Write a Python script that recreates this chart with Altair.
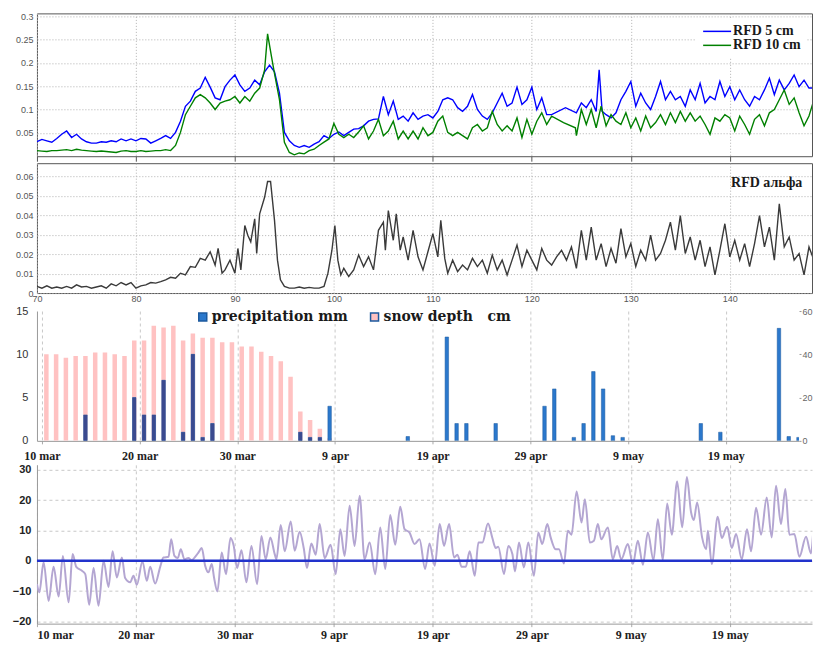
import altair as alt
import pandas as pd

# ---------------- data ----------------
series_top = ["RFD 5 cm", "RFD 10 cm"]
series_alpha = ["RFD альфа"]
series_bars = ["precipitation mm", "snow depth\u00a0\u00a0\u00a0cm"]

tick_days = [70, 80, 90, 100, 110, 120, 130, 140]
date_labels = ["10 mar", "20 mar", "30 mar", "9 apr", "19 apr", "29 apr", "9 may", "19 may"]

rfd5_day = [70, 70.5, 71, 71.5, 72, 72.5, 73, 73.5, 74, 74.5,
            75, 75.5, 76, 76.5, 77, 77.5, 78, 78.5, 79, 79.5,
            80, 80.5, 81, 81.5, 82, 82.5, 83, 83.5, 84, 84.5,
            85, 85.5, 86, 86.5, 87, 87.5, 88, 88.5, 89, 89.5,
            90, 90.5, 91, 91.5, 92, 92.5, 93, 93.5, 94, 94.5,
            95, 95.5, 96, 96.5, 97, 97.5, 98, 98.5, 99, 99.5,
            100, 100.5, 101, 101.5, 102, 102.5, 103, 103.5, 104, 104.5,
            105, 105.5, 106, 106.5, 107, 107.5, 108, 108.5, 109, 109.5,
            110, 110.5, 111, 111.5, 112, 112.5, 113, 113.5, 114, 114.5,
            115, 115.5, 116, 116.5, 117, 117.5, 118, 118.5, 119, 119.5,
            120, 120.5, 121, 121.5, 122, 123.4, 124.5, 125, 125.5, 126,
            126.5, 126.8, 127.1, 127.5, 128, 128.5, 129, 129.5, 130, 130.5,
            131, 131.5, 132, 132.5, 133, 133.5, 134, 134.5, 135, 135.5,
            136, 136.5, 137, 137.5, 138, 138.5, 139, 139.5, 140, 140.5,
            141, 141.5, 142, 142.5, 143, 143.5, 144, 144.5, 145, 145.5,
            146, 146.5, 147, 147.5, 148, 148.5, 149, 149.4]
rfd5_val = [0.031, 0.036, 0.033, 0.030, 0.038, 0.047, 0.054, 0.040, 0.047, 0.037,
            0.031, 0.028, 0.028, 0.031, 0.030, 0.033, 0.031, 0.037, 0.033, 0.037,
            0.033, 0.038, 0.037, 0.028, 0.033, 0.038, 0.044, 0.038, 0.051, 0.075,
            0.107, 0.118, 0.139, 0.146, 0.169, 0.148, 0.125, 0.121, 0.149, 0.163,
            0.174, 0.153, 0.139, 0.146, 0.163, 0.153, 0.181, 0.195, 0.181, 0.135,
            0.051, 0.033, 0.023, 0.019, 0.023, 0.019, 0.026, 0.031, 0.044, 0.038,
            0.047, 0.052, 0.044, 0.051, 0.058, 0.059, 0.065, 0.075, 0.079, 0.080,
            0.128, 0.089, 0.118, 0.079, 0.086, 0.075, 0.093, 0.079, 0.086, 0.089,
            0.082, 0.096, 0.121, 0.125, 0.121, 0.104, 0.096, 0.107, 0.132, 0.100,
            0.086, 0.079, 0.093, 0.114, 0.135, 0.107, 0.114, 0.148, 0.111, 0.121,
            0.148, 0.100, 0.125, 0.089, 0.089, 0.104, 0.093, 0.114, 0.104, 0.121,
            0.096, 0.185, 0.096, 0.089, 0.082, 0.093, 0.121, 0.139, 0.160, 0.107,
            0.135, 0.114, 0.100, 0.128, 0.160, 0.121, 0.139, 0.121, 0.128, 0.107,
            0.142, 0.121, 0.156, 0.114, 0.128, 0.121, 0.160, 0.128, 0.149, 0.121,
            0.142, 0.121, 0.107, 0.128, 0.121, 0.142, 0.167, 0.132, 0.163, 0.142,
            0.156, 0.174, 0.149, 0.163, 0.146, 0.146, 0.170, 0.163]

rfd10_day = [70, 70.5, 71, 71.5, 72, 72.5, 73, 73.5, 74, 74.5,
             75, 75.5, 76, 76.5, 77, 77.5, 78, 78.5, 79, 79.5,
             80, 80.5, 81, 81.5, 82, 82.5, 83, 83.5, 84, 84.5,
             85, 85.5, 86, 86.5, 87, 87.5, 88, 88.5, 89, 89.5,
             90, 90.5, 91, 91.5, 92, 92.5, 93, 93.3, 93.7, 94,
             94.5, 95, 95.5, 96, 96.5, 97, 97.5, 98, 98.5, 99,
             99.5, 100, 100.5, 101, 101.5, 102, 102.5, 103, 103.5, 104,
             104.5, 105, 105.5, 106, 106.5, 107, 107.5, 108, 108.5, 109,
             109.5, 110, 110.5, 111, 111.5, 112, 112.5, 113, 113.5, 114,
             114.5, 115, 115.5, 116, 116.5, 117, 117.5, 118, 118.5, 119,
             119.5, 120, 120.5, 121, 121.5, 122, 123.2, 124.4, 124.5, 125,
             125.5, 126, 126.5, 127, 127.5, 128, 128.5, 129, 129.5, 130,
             130.5, 131, 131.5, 132, 132.5, 133, 133.5, 134, 134.5, 135,
             135.5, 136, 136.5, 137, 137.5, 138, 138.5, 139, 139.5, 140,
             140.5, 141, 141.5, 142, 142.5, 143, 143.5, 144, 144.5, 145,
             145.5, 146, 146.5, 147, 147.5, 148, 148.5, 149, 149.4]
rfd10_val = [0.012, 0.011, 0.010, 0.012, 0.012, 0.013, 0.014, 0.012, 0.015, 0.013,
             0.012, 0.011, 0.010, 0.011, 0.010, 0.009, 0.008, 0.011, 0.012, 0.010,
             0.010, 0.012, 0.010, 0.011, 0.012, 0.012, 0.014, 0.012, 0.023, 0.051,
             0.089, 0.107, 0.125, 0.132, 0.125, 0.114, 0.100, 0.114, 0.118, 0.121,
             0.128, 0.114, 0.128, 0.118, 0.135, 0.146, 0.185, 0.262, 0.213, 0.177,
             0.121, 0.030, 0.008, 0.003, 0.007, 0.005, 0.012, 0.015, 0.023, 0.030,
             0.037, 0.070, 0.047, 0.040, 0.047, 0.040, 0.052, 0.065, 0.037, 0.054,
             0.079, 0.044, 0.054, 0.075, 0.037, 0.054, 0.037, 0.054, 0.037, 0.061,
             0.044, 0.051, 0.075, 0.086, 0.051, 0.044, 0.051, 0.044, 0.037, 0.061,
             0.068, 0.054, 0.061, 0.096, 0.068, 0.054, 0.065, 0.054, 0.082, 0.040,
             0.079, 0.047, 0.075, 0.093, 0.068, 0.086, 0.072, 0.061, 0.044, 0.100,
             0.068, 0.100, 0.061, 0.107, 0.065, 0.089, 0.075, 0.068, 0.093, 0.061,
             0.082, 0.054, 0.086, 0.061, 0.072, 0.089, 0.068, 0.093, 0.072, 0.096,
             0.075, 0.093, 0.075, 0.086, 0.068, 0.047, 0.082, 0.075, 0.089, 0.082,
             0.054, 0.086, 0.068, 0.047, 0.079, 0.089, 0.065, 0.093, 0.100, 0.121,
             0.142, 0.111, 0.125, 0.093, 0.065, 0.086, 0.121, 0.100, 0.089]

alpha_day = [70, 70.5, 71, 71.5, 72, 72.5, 73, 73.5, 74, 74.5,
             75, 75.5, 76, 76.5, 77, 77.5, 78, 78.5, 79, 79.5,
             80, 80.5, 81, 81.5, 82, 82.5, 83, 83.5, 84, 84.5,
             85, 85.5, 86, 86.5, 87, 87.5, 88, 88.3, 88.7, 89,
             89.5, 90, 90.3, 90.6, 91, 91.3, 91.6, 92, 92.2, 92.5,
             93, 93.3, 93.6, 94, 94.3, 94.6, 95, 95.5, 96, 96.5,
             97, 97.5, 98, 98.5, 99, 99.4, 99.8, 100.1, 100.4, 100.7,
             101, 101.5, 102, 102.5, 103, 103.5, 104, 104.5, 105, 105.2,
             105.5, 106, 106.3, 106.7, 107, 107.5, 108, 108.5, 109, 109.5,
             110, 110.5, 110.8, 111.2, 111.5, 112, 112.5, 113, 113.5, 114,
             114.5, 115, 115.5, 116, 116.5, 117, 117.5, 118, 118.5, 119,
             119.5, 120, 120.5, 121, 121.5, 122, 122.5, 123, 123.5, 124,
             124.5, 125, 125.5, 126, 126.5, 127, 127.5, 128, 128.5, 129,
             129.5, 130, 130.5, 131, 131.5, 132, 132.5, 133, 133.5, 134,
             134.5, 135, 135.5, 136, 136.5, 137, 137.5, 138, 138.5, 139,
             139.5, 140, 140.5, 141, 141.5, 142, 142.5, 143, 143.5, 144,
             144.5, 145, 145.5, 146, 146.5, 147, 147.5, 148, 148.5, 149,
             149.4]
alpha_val = [0.0034, 0.0025, 0.0037, 0.0025, 0.0031, 0.0025, 0.0034, 0.0025, 0.0042, 0.0031,
             0.0034, 0.0025, 0.0031, 0.0037, 0.0025, 0.0047, 0.0037, 0.0054, 0.0042, 0.0054,
             0.0025, 0.0037, 0.0042, 0.0054, 0.0051, 0.0059, 0.0068, 0.0081, 0.0076, 0.0102,
             0.0093, 0.0136, 0.0132, 0.0178, 0.0169, 0.0212, 0.0144, 0.0229, 0.0102, 0.0119,
             0.0169, 0.0102, 0.0229, 0.0119, 0.0347, 0.0297, 0.0263, 0.0381, 0.0203, 0.0407,
             0.0492, 0.0573, 0.0573, 0.0373, 0.0169, 0.0068, 0.0034, 0.0025, 0.0025, 0.0031,
             0.0025, 0.0029, 0.0025, 0.0025, 0.0034, 0.0102, 0.0220, 0.0347, 0.0169, 0.0093,
             0.0127, 0.0085, 0.0119, 0.0195, 0.0136, 0.0186, 0.0119, 0.0322, 0.0364, 0.0220,
             0.0424, 0.0271, 0.0407, 0.0220, 0.0288, 0.0169, 0.0322, 0.0186, 0.0119, 0.0212,
             0.0305, 0.0186, 0.0373, 0.0178, 0.0102, 0.0169, 0.0110, 0.0144, 0.0119, 0.0178,
             0.0136, 0.0169, 0.0102, 0.0195, 0.0119, 0.0169, 0.0093, 0.0169, 0.0246, 0.0136,
             0.0220, 0.0169, 0.0119, 0.0229, 0.0169, 0.0144, 0.0186, 0.0220, 0.0169, 0.0237,
             0.0127, 0.0322, 0.0169, 0.0339, 0.0169, 0.0254, 0.0136, 0.0229, 0.0153, 0.0331,
             0.0186, 0.0254, 0.0136, 0.0220, 0.0169, 0.0297, 0.0169, 0.0203, 0.0271, 0.0364,
             0.0220, 0.0398, 0.0203, 0.0288, 0.0169, 0.0271, 0.0136, 0.0237, 0.0093, 0.0220,
             0.0356, 0.0186, 0.0271, 0.0169, 0.0254, 0.0136, 0.0254, 0.0398, 0.0237, 0.0339,
             0.0169, 0.0458, 0.0237, 0.0288, 0.0169, 0.0203, 0.0093, 0.0237, 0.0169, 0.0373,
             0.0237]

snow_day = [70, 71, 72, 73, 74, 75, 76, 77, 78, 79,
            80, 81, 82, 83, 84, 85, 86, 87, 88, 89,
            90, 91, 92, 93, 94, 95, 96, 97, 98, 99]
snow_cm = [40, 40, 38.4, 39.2, 39.2, 40.8, 40.8, 40, 39.2, 46.4,
           46.4, 53.2, 52.4, 53.2, 46.4, 49.6, 47.6, 47.6, 45.6, 45.6,
           43.6, 43.6, 41.2, 39.2, 36.8, 29.6, 13.6, 9.6, 5.6, 1.2]

precip_day = [74, 79, 80, 81, 82, 84, 85, 86, 87, 96, 97, 98, 99,
              107, 111, 112, 113, 116, 121, 122, 124, 125, 126, 127, 128, 129,
              137, 139, 145, 146, 147]
precip_mm = [3, 5, 3, 3, 7, 1, 10, 0.4, 2, 1, 0.4, 0.4, 4,
             0.5, 12, 2, 2, 2, 4, 6, 0.4, 2, 8, 6, 0.6, 0.4,
             2, 1, 13, 0.5, 0.4]

temp_day = [70.0, 70.24, 70.67, 71.18, 71.68, 72.19, 72.62, 73.2, 73.6, 73.97,
            74.54, 74.88, 75.28, 75.72, 76.22, 76.73, 77.23, 77.64, 78.07, 78.58,
            78.91, 79.42, 79.75, 80.09, 80.66, 81.1, 81.44, 81.94, 82.45, 82.78,
            83.29, 83.56, 83.89, 84.23, 84.53, 84.9, 85.3, 85.64, 85.98, 86.31,
            86.65, 86.99, 87.32, 87.66, 87.89, 88.23, 88.67, 89.1, 89.55, 89.88,
            90.22, 90.66, 91.16, 91.67, 92.24, 92.68, 93.11, 93.58, 94.02, 94.19,
            94.63, 95.03, 95.64, 96.04, 96.54, 96.95, 97.28, 97.72, 98.16, 98.56,
            99.07, 99.67, 100.18, 100.65, 101.08, 101.59, 102.09, 102.6, 103.1, 103.61,
            104.18, 104.68, 105.19, 105.69, 106.2, 106.7, 107.14, 107.64, 108.15, 108.65,
            109.22, 109.66, 110.19, 110.69, 111.13, 111.64, 112.14, 112.48, 112.91, 113.32,
            113.72, 114.23, 114.6, 115.0, 115.57, 116.01, 116.35, 116.61, 117.19, 117.62,
            118.03, 118.3, 118.7, 119.2, 119.64, 120.21, 120.65, 121.05, 121.56, 121.9,
            122.4, 122.74, 123.24, 123.64, 124.01, 124.52, 125.02, 125.36, 125.86, 126.27,
            126.67, 127.01, 127.68, 128.18, 128.62, 129.03, 129.7, 130.21, 130.71, 131.22,
            131.72, 132.29, 132.73, 133.23, 133.67, 134.14, 134.68, 135.19, 135.66, 136.09,
            136.36, 136.7, 137.2, 137.61, 137.78, 138.18, 138.78, 139.19, 139.73, 140.2,
            140.63, 141.21, 141.74, 142.15, 142.65, 143.16, 143.73, 144.23, 144.67, 145.17,
            145.61, 146.02, 146.52, 147.03, 147.7, 148.2, 148.71, 149.14, 149.38]
temp_val = [-7.7, -10.4, -0.5, -13.2, -2.0, -11.8, 1.6, -13.7, 2.2, -2.0,
            -3.3, -4.4, -14.5, -2.4, -14.8, 0.0, -8.6, 3.1, -5.5, 1.1,
            -5.7, -7.1, -4.9, -7.9, -0.2, -6.6, -2.0, -7.5, -2.0, 1.1,
            1.3, 7.1, 1.6, 0.9, 3.8, 0.5, 0.9, 0.2, 1.3, 2.7,
            4.2, -1.6, -3.8, -1.1, -5.5, -10.1, 2.7, -4.4, 7.5, 4.9,
            -2.4, 3.5, -7.1, 4.9, -7.7, 8.2, 0.5, 7.7, 2.2, 0.5,
            11.8, 3.1, 12.9, 3.3, 9.6, 4.2, -2.4, 5.7, 2.0, 12.1,
            0.9, 5.3, -4.4, 10.4, 1.6, 18.1, 4.9, 21.4, 0.5, 6.0,
            -4.4, 11.0, -2.7, 15.1, 5.3, 17.8, 10.4, 9.3, 5.5, 7.1,
            -2.7, 5.7, -1.6, 12.1, 4.9, 12.1, 1.1, 2.0, -2.0, -2.0,
            3.1, -4.9, 6.0, 6.0, 12.3, 7.5, 4.2, 4.6, -4.4, 4.9,
            2.2, -3.5, 6.0, -2.2, 6.0, -4.9, 9.3, 5.5, 12.1, 7.7,
            3.8, 3.8, -0.9, 9.9, 8.6, 22.8, 12.6, 20.3, 6.0, 6.6,
            12.1, 7.1, 11.0, 0.5, 4.9, 0.5, 5.5, -1.1, 6.6, -1.3,
            9.3, 0.2, 13.7, 0.2, 18.9, 8.6, 26.1, 11.0, 27.6, 15.9,
            13.4, 19.2, 7.7, 3.8, 9.9, -1.1, 14.5, 7.5, 11.2, 4.2,
            8.8, 0.5, 10.4, 3.1, 17.5, 8.6, 20.8, 7.7, 24.7, 12.1,
            23.6, 8.6, 8.8, 1.3, 7.9, 2.4, 19.7, 7.7, 11.2]

zero_level = [0]

# ---------------- layout / style ----------------
PX_PER_DAY = 9.91
W = 776
W3 = 763
XD = [70, 70 + W / PX_PER_DAY]
XD3 = [70, 70 + W3 / PX_PER_DAY]

label_expr = " : ".join(
    f"datum.value == {d} ? '{l}'" for d, l in zip(tick_days, date_labels)
) + " : ''"

dot = dict(gridColor="#b0b0b0", gridDash=[1, 2], gridWidth=1)
dash = dict(gridColor="#c8c8c8", gridDash=[3, 3], gridWidth=1)
small = dict(labelFont="Liberation Sans", labelFontSize=9, labelColor="#555")

# ---- panel 1 ----
df_rfd = pd.concat([
    pd.DataFrame({"day": rfd5_day, "v": rfd5_val, "series": series_top[0]}),
    pd.DataFrame({"day": rfd10_day, "v": rfd10_val, "series": series_top[1]}),
])
p1 = alt.Chart(df_rfd).mark_line(strokeWidth=1.4, clip=True).encode(
    x=alt.X("day:Q", scale=alt.Scale(domain=XD, nice=False, zero=False),
            axis=alt.Axis(values=tick_days, labels=False, ticks=True, tickSize=5,
                          tickColor="#555", domain=False, title=None, **dot)),
    y=alt.Y("v:Q", scale=alt.Scale(domain=[0, 0.306], nice=False),
            axis=alt.Axis(values=[0.05, 0.1, 0.15, 0.2, 0.25, 0.3], format="~g",
                          ticks=False, domain=False, title=None, labelPadding=4,
                          **small, **dot)),
    color=alt.Color("series:N",
                    scale=alt.Scale(domain=series_top, range=["#0000ff", "#008000"]),
                    legend=alt.Legend(orient="none", legendX=659, legendY=6, title=None,
                                      fillColor="white", padding=5, rowPadding=0,
                                      symbolType="M-1,0H6", symbolSize=64,
                                      symbolStrokeWidth=1.5, labelOffset=19,
                                      labelFont="Liberation Serif", labelFontWeight="bold",
                                      labelFontSize=14, labelColor="#1a1a1a")),
).properties(width=W, height=143, view=alt.ViewBackground(stroke="#555"))

# ---- panel 2 ----
df_alpha = pd.DataFrame({"day": alpha_day, "v": alpha_val, "series": series_alpha[0]})
p2 = alt.Chart(df_alpha).mark_line(strokeWidth=1.4, clip=True).encode(
    x=alt.X("day:Q", scale=alt.Scale(domain=XD, nice=False, zero=False),
            axis=alt.Axis(values=tick_days, format="d", ticks=False, labelPadding=1,
                          labelFlush=False, domain=False, title=None, **small, **dot)),
    y=alt.Y("v:Q", scale=alt.Scale(domain=[0, 0.0667], nice=False),
            axis=alt.Axis(values=[0, 0.01, 0.02, 0.03, 0.04, 0.05, 0.06], format="~g",
                          ticks=False, domain=False, title=None, labelPadding=4,
                          **small, **dot)),
    color=alt.Color("series:N",
                    scale=alt.Scale(domain=series_alpha, range=["#3a3a3a"]),
                    legend=alt.Legend(orient="none", legendX=681, legendY=13, title=None,
                                      symbolSize=0, symbolOpacity=0, labelOffset=0,
                                      padding=0, labelFont="Liberation Serif",
                                      labelFontWeight="bold", labelFontSize=14,
                                      labelColor="#1a1a1a")),
).properties(width=W, height=130, view=alt.ViewBackground(stroke="#555"))

# ---- panel 3 ----
df_snow = pd.DataFrame({"day": snow_day, "v": snow_cm, "series": series_bars[1]})
df_prec = pd.DataFrame({"day": precip_day, "v": precip_mm, "series": series_bars[0]})

xb = alt.X("xc:Q", scale=alt.Scale(domain=XD3, nice=False, zero=False),
           axis=alt.Axis(values=tick_days, labelExpr=label_expr, labelFlush=False,
                         labelFont="Liberation Serif", labelFontWeight="bold",
                         labelFontSize=12, labelColor="#222", tickSize=3,
                         tickColor="#aaa", labelPadding=7, domainColor="#999",
                         title=None, **dash))
cb = alt.Color("series:N",
               scale=alt.Scale(domain=series_bars, range=["#2b78cc", "#ffc2c2"]),
               legend=alt.Legend(orient="none", legendX=159, legendY=-1, title=None,
                                 direction="horizontal", columns=2, columnPadding=19,
                                 symbolType="square", symbolSize=64, labelOffset=2,
                                 fillColor="white", padding=0,
                                 labelFont="DejaVu Serif", labelFontWeight="bold",
                                 labelFontSize=14, labelColor="#1a1a1a"))

snow = alt.Chart(df_snow).transform_calculate(xc="datum.day + 0.45").mark_bar(
    size=4.5, clip=True).encode(
    x=xb,
    y=alt.Y("v:Q", scale=alt.Scale(domain=[0, 60], nice=False),
            axis=alt.Axis(orient="right", values=[0, 20, 40, 60], grid=False, domain=False,
                          tickSize=2, tickColor="#999", labelFont="Liberation Sans",
                          labelFontSize=9, labelColor="#666", labelPadding=1, title=None)),
    color=cb,
)
prec = alt.Chart(df_prec).transform_calculate(xc="datum.day + 0.45").mark_bar(
    size=3.5, stroke="#1d5a9e", strokeWidth=0.5, clip=True).encode(
    x=xb,
    y=alt.Y("v:Q", scale=alt.Scale(domain=[0, 15], nice=False),
            axis=alt.Axis(orient="left", values=[0, 5, 10, 15], ticks=False, domainColor="#999",
                          labelFont="Liberation Sans", labelFontSize=11, labelColor="#333",
                          labelPadding=9, title=None, **dash)),
    color=cb,
)
prec_snow = alt.Chart(df_prec).transform_filter("datum.day < 99").transform_calculate(
    xc="datum.day + 0.45").mark_bar(size=3.5, color="#3b4a8f", clip=True).encode(
    x=xb,
    y=alt.Y("v:Q", scale=alt.Scale(domain=[0, 15], nice=False), axis=None),
)
p3 = alt.layer(snow, prec, prec_snow).resolve_scale(y="independent").properties(
    width=W3, height=130, view=alt.ViewBackground(stroke="transparent"))

# ---- panel 4 ----
df_temp = pd.DataFrame({"day": temp_day, "v": temp_val})
df_zero = pd.DataFrame({"v": zero_level})
ys4 = alt.Scale(domain=[-20.7, 31.6], nice=False, zero=False)
y4_axis = alt.Axis(values=[-20, -10, 0, 10, 20, 30], ticks=False, domainColor="#999",
                   labelFont="Liberation Sans", labelFontWeight="bold",
                   labelFontSize=11, labelColor="#222", labelPadding=6,
                   title=None, **dash)
temp = alt.Chart(df_temp).mark_line(color="#b4a6d2", strokeWidth=2, interpolate="monotone",
                                    clip=True).encode(
    x=alt.X("day:Q", scale=alt.Scale(domain=XD, nice=False, zero=False),
            axis=alt.Axis(values=tick_days, labelExpr=label_expr, labelFlush=True,
                          labelFont="Liberation Serif", labelFontWeight="bold",
                          labelFontSize=12, labelColor="#222", tickSize=3,
                          tickColor="#aaa", labelPadding=3, domainColor="#999",
                          title=None, **dash)),
    y=alt.Y("v:Q", scale=ys4, axis=y4_axis),
)
zero = alt.Chart(df_zero).mark_rule(color="#2233cc", strokeWidth=2.5).encode(
    y=alt.Y("v:Q", scale=ys4, axis=y4_axis))
p4 = alt.layer(temp, zero).properties(width=W, height=159,
                                      view=alt.ViewBackground(stroke="transparent"))

chart = alt.vconcat(p1, p2, p3, p4, spacing=0).resolve_scale(
    color="independent", x="independent", y="independent"
).resolve_legend(color="independent").properties(
    padding={"left": 3, "top": 3, "right": 0, "bottom": 0}
).configure(font="Liberation Sans", background="white")

chart.save("out.html", embed_options={"renderer": "svg", "actions": False})
